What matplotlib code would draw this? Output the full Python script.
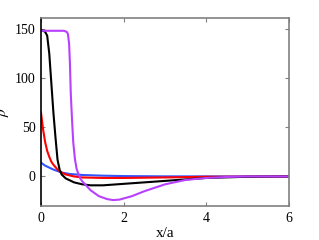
import matplotlib
matplotlib.use("Agg")
import matplotlib.pyplot as plt

plt.rcParams["font.family"] = ["Liberation Serif", "DejaVu Serif"]
plt.rcParams["mathtext.fontset"] = "stix"

# values
x_blue = [0, 0.1, 0.2, 0.3, 0.4, 0.5, 0.7, 1.0, 1.5, 2, 3, 6]
y_blue = [14, 11, 9, 7, 5.5, 4, 2.5, 1.5, 0.8, 0.4, 0.1, 0]

x_red = [0, 0.05, 0.1, 0.15, 0.2, 0.25, 0.3, 0.4, 0.5, 0.6, 0.8, 1.0, 1.5, 2, 3, 4, 6]
y_red = [65, 48, 35, 26, 20, 15, 12, 7, 4, 2, 0, -1, -1.5, -1.5, -1, -0.3, 0]

x_black = [0, 0.1, 0.15, 0.2, 0.25, 0.3, 0.35, 0.4, 0.45, 0.5, 0.6, 0.8, 1.0,
           1.2, 1.5, 2, 2.5, 3, 3.5, 4, 5, 6]
y_black = [149, 147, 143, 125, 95, 65, 40, 17, 7, 2, -2, -6, -8,
           -9, -9, -7.5, -6, -4.5, -3, -1.5, -0.3, 0]

x_purple = [0, 0.55, 0.62, 0.65, 0.68, 0.70, 0.72, 0.75, 0.78, 0.82, 0.86, 0.9,
            0.95, 1.0, 1.2, 1.4, 1.6, 1.75, 1.9, 2.2, 2.5, 3.0, 3.5, 4.0, 4.5, 5, 6]
y_purple = [148, 148, 147, 145, 135, 115, 85, 58, 35, 18, 8, 3,
            -2, -5, -14, -20, -23, -24, -23.5, -20, -15, -8, -3.5, -1.5, -0.5, 0, 0]

fig = plt.figure(figsize=(3.19, 2.40), dpi=100)
ax = fig.add_axes([0.1285, 0.1417, 0.7775, 0.7833])

ax.plot(x_blue, y_blue, color="#3355ff", lw=1.5)
ax.plot(x_red, y_red, color="red", lw=1.5)
ax.plot(x_black, y_black, color="black", lw=1.5)
ax.plot(x_purple, y_purple, color="#b840ff", lw=1.5)

ax.set_xlim(0, 6)
ax.set_ylim(-30, 161)
ax.set_xticks([0, 2, 4, 6])
ax.set_yticks([0, 50, 100, 150])
ax.tick_params(direction="in", length=3, color="gray", labelsize=10, pad=4)
ax.tick_params(top=True, right=True)
for s in ["top", "right", "bottom"]:
    ax.spines[s].set_color("gray")
ax.spines["left"].set_color("black")
for s in ax.spines.values():
    s.set_linewidth(1.2)

ax.set_xlabel("x/a", fontsize=11, labelpad=2)
ax.set_ylabel(r"$\tilde{\rho}$", fontsize=11)
ax.yaxis.set_label_coords(-0.115, 0.5)

fig.savefig("out.png", dpi=100)
